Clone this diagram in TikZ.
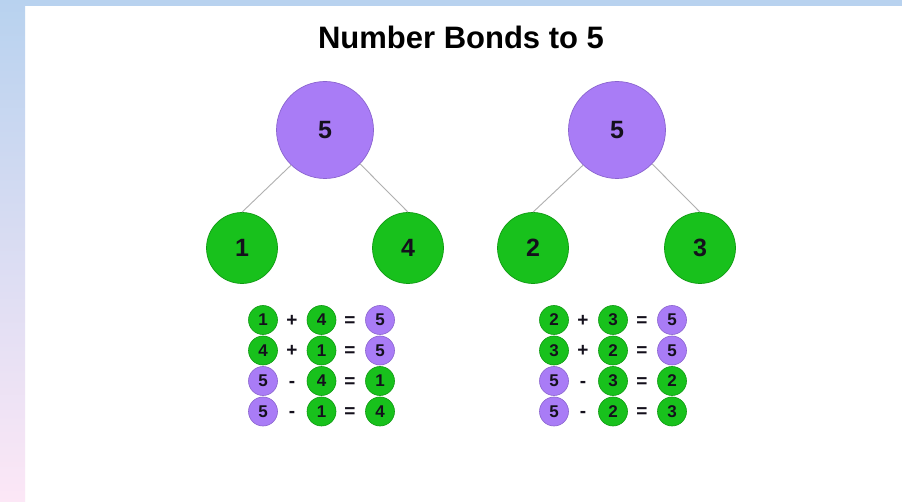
\documentclass[tikz,border=0pt]{standalone}
\usepackage{fontspec}
\setmainfont{Liberation Sans}
\definecolor{bpurple}{HTML}{A97CF6}
\definecolor{bpurpleD}{HTML}{8A64CF}
\definecolor{bgreen}{HTML}{18C11C}
\definecolor{bgreenD}{HTML}{0F9A12}
\definecolor{numtext}{HTML}{14101C}
\definecolor{edgegray}{HTML}{B0B0B0}
\definecolor{bgblue}{HTML}{B8D2EF}
\definecolor{bgpink}{HTML}{FCE7F6}
\tikzset{
  bigp/.style={circle, fill=bpurple, draw=bpurpleD, line width=0.7pt, minimum size=97pt, inner sep=0pt, text=numtext, font=\fontsize{25}{25}\selectfont\bfseries},
  bigg/.style={circle, fill=bgreen, draw=bgreenD, line width=0.7pt, minimum size=71pt, inner sep=0pt, text=numtext, font=\fontsize{25}{25}\selectfont\bfseries},
  smp/.style={circle, fill=bpurple, draw=bpurpleD, line width=0.6pt, minimum size=29pt, inner sep=0pt, text=numtext, font=\fontsize{17}{17}\selectfont\bfseries},
  smg/.style={circle, fill=bgreen, draw=bgreenD, line width=0.6pt, minimum size=29pt, inner sep=0pt, text=numtext, font=\fontsize{17}{17}\selectfont\bfseries},
  opr/.style={inner sep=0pt, text height=12.2pt, text depth=0pt, text=numtext, font=\fontsize{19}{19}\selectfont\bfseries},
  bond/.style={draw=edgegray, line width=0.9pt},
  titletext/.style={inner sep=0pt, text=black, font=\fontsize{31}{31}\selectfont\bfseries}
}
\begin{document}
\begin{tikzpicture}[x=1pt,y=-1pt]
\useasboundingbox (0,0) rectangle (902,502);
% background frame
\fill[white] (0,0) rectangle (902,502);
\fill[bgblue] (0,0) rectangle (902,6);
\shade[top color=bgblue, bottom color=bgpink] (0,0) rectangle (25,502);
% title
\node[titletext] (title) at (461,37) {Number Bonds to 5};
% left tree
\node[bigp] (LT) at (325,130) {5};
\node[bigg] (LA) at (242,248) {1};
\node[bigg] (LB) at (408,248) {4};
\draw[bond] (LT.226) -- (LA.north);
\draw[bond] (LT.-44) -- (LB.north);
% right tree
\node[bigp] (RT) at (617,130) {5};
\node[bigg] (RA) at (533,248) {2};
\node[bigg] (RB) at (700,248) {3};
\draw[bond] (RT.226) -- (RA.north);
\draw[bond] (RT.-44) -- (RB.north);
% left equations
\foreach \r/\a/\sa/\op/\b/\sb/\c/\sc [count=\i] in {
  320/1/smg/+/4/smg/5/smp,
  350.5/4/smg/+/1/smg/5/smp,
  381/5/smp/-/4/smg/1/smg,
  411.5/5/smp/-/1/smg/4/smg}{
  \node[\sa] (la\i) at (263,\r) {\a};
  \node[opr] (lo\i) at (292,\r) {\op};
  \node[\sb] (lb\i) at (321.5,\r) {\b};
  \node[opr] (le\i) at (350,\r) {=};
  \node[\sc] (lc\i) at (380,\r) {\c};
}
% right equations
\foreach \r/\a/\sa/\op/\b/\sb/\c/\sc [count=\i] in {
  320/2/smg/+/3/smg/5/smp,
  350.5/3/smg/+/2/smg/5/smp,
  381/5/smp/-/3/smg/2/smg,
  411.5/5/smp/-/2/smg/3/smg}{
  \node[\sa] (ra\i) at (554,\r) {\a};
  \node[opr] (ro\i) at (583,\r) {\op};
  \node[\sb] (rb\i) at (613,\r) {\b};
  \node[opr] (re\i) at (642,\r) {=};
  \node[\sc] (rc\i) at (672,\r) {\c};
}
\end{tikzpicture}
\end{document}
